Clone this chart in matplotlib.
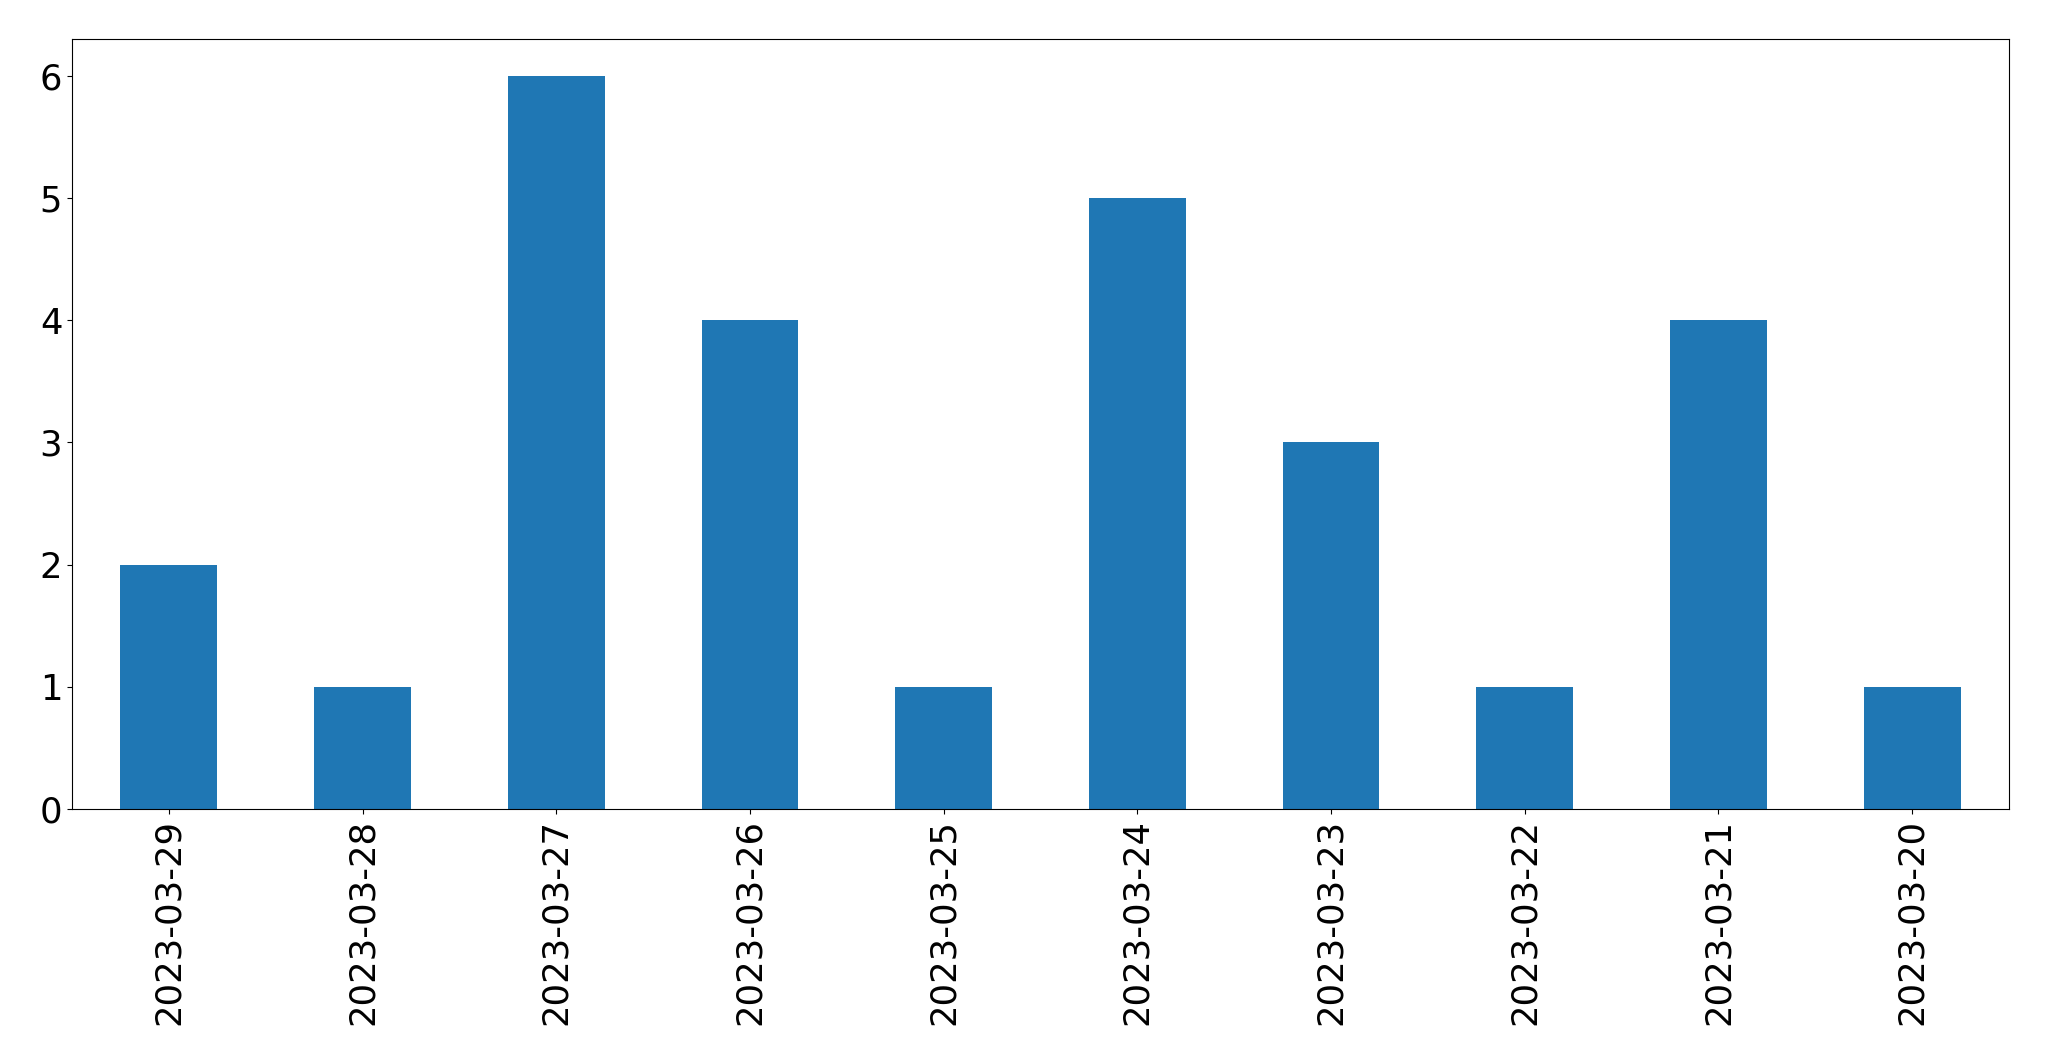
import matplotlib
matplotlib.use("Agg")
import matplotlib.pyplot as plt
import pandas as pd

dates = ["2023-03-29", "2023-03-28", "2023-03-27", "2023-03-26", "2023-03-25",
         "2023-03-24", "2023-03-23", "2023-03-22", "2023-03-21", "2023-03-20"]
counts = [2, 1, 6, 4, 1, 5, 3, 1, 4, 1]

plt.rcParams["font.size"] = 25.5

s = pd.Series(counts, index=dates)

fig = plt.figure(figsize=(20.49, 10.61), dpi=100)
ax = fig.add_axes([72 / 2049, 1 - 809 / 1061, (2009 - 72) / 2049, (809 - 39) / 1061])
s.plot(kind="bar", ax=ax, color="#1f77b4")
ax.tick_params(axis="both", labelsize=25.5)
fig.savefig("out.png", dpi=100)
